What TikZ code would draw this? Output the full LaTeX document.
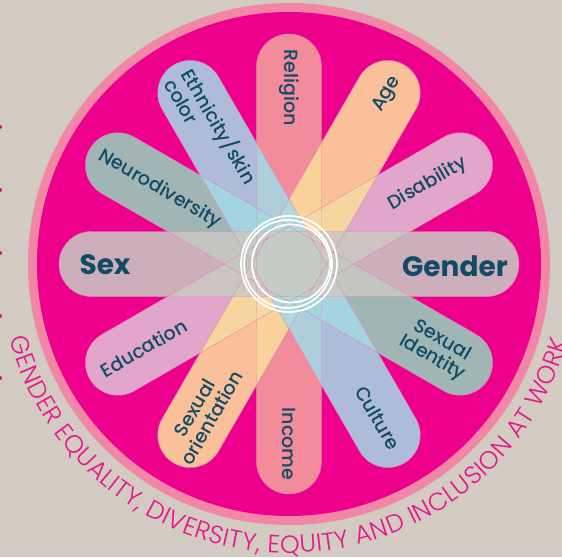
\documentclass[tikz,border=0pt]{standalone}
\usepackage{fontspec}
\usepackage{tikz}
\usetikzlibrary{decorations.text}
\newfontfamily\labelfont{Poppins Medium}
\newfontfamily\biglabelfont{Poppins Bold}
\newfontfamily\arcfont{Poppins Light}
\definecolor{bgbeige}{RGB}{211,202,193}
\definecolor{ringpink}{RGB}{242,134,166}
\definecolor{magentabase}{RGB}{236,0,140}
\definecolor{arcmag}{RGB}{232,20,140}
\definecolor{relpink}{RGB}{243,160,157}
\definecolor{agepeach}{RGB}{251,221,156}
\definecolor{dispink}{RGB}{224,191,212}
\definecolor{sexgray}{RGB}{201,201,194}
\definecolor{neuroteal}{RGB}{152,209,188}
\definecolor{ethblue}{RGB}{165,217,229}
\definecolor{edgepink}{RGB}{222,134,184}
\definecolor{labelteal}{RGB}{17,75,102}

\begin{document}
\begin{tikzpicture}[x=1pt,y=1pt,
  spoke/.style={fill opacity=0.87,rounded corners=32.5pt},
  spokeedge/.style={draw=edgepink,line width=0.4pt,rounded corners=32.5pt},
  lbl/.style={text=labelteal,font=\labelfont\fontsize{19}{20}\selectfont,inner sep=0pt},
  biglbl/.style={text=labelteal,font=\biglabelfont\fontsize{28}{30}\selectfont,inner sep=0pt}]
\fill[bgbeige] (-289,-293) rectangle (273,264);
\useasboundingbox (-289,-293) rectangle (273,264);
%dots on the left edge
\fill[magentabase] (-289,137) circle (2);
\fill[magentabase] (-289,74) circle (2);
\fill[magentabase] (-289,11) circle (2);
\fill[magentabase] (-289,-52) circle (2);
\fill[magentabase] (-289,-114) circle (2);
%disc
\fill[ringpink] (0,0) circle (261);
\fill[magentabase] (0,0) circle (252);
%spokes
\fill[relpink,spoke,rotate=90] (-230,-32.5) rectangle (230,32.5);
\fill[dispink,spoke,rotate=30] (-230,-32.5) rectangle (230,32.5);
\fill[neuroteal,spoke,rotate=150] (-230,-32.5) rectangle (230,32.5);
\fill[agepeach,spoke,rotate=60] (-230,-32.5) rectangle (230,32.5);
\fill[ethblue,spoke,rotate=120] (-230,-32.5) rectangle (230,32.5);
\fill[sexgray,spoke] (-230,-32.5) rectangle (230,32.5);
\foreach \a in {0,30,60,90,120,150}
  \draw[spokeedge,rotate=\a] (-230,-32.5) rectangle (230,32.5);
%rings in the middle
\draw[white,line width=1.8pt] (0,0) circle (48);
\draw[white,line width=1.8pt] (-1,0) circle (44);
\draw[white,line width=1.8pt] (2,0.5) circle (39);
%labels
\node[lbl,rotate=-90] (religion) at (0,176) {Religion};
\node[lbl,rotate=60] (age) at (60:196) {Age};
\node[lbl,rotate=30] (disability) at (30:160) {Disability};
\node[biglbl] (gender) at (166,-2) {Gender};
\node[lbl,rotate=-30,align=center] (sexid) at (-30:171) {Sexual\\Identity};
\node[lbl,rotate=-60] (culture) at (-60:178) {Culture};
\node[lbl,rotate=-90] (income) at (0,-180) {Income};
\node[lbl,rotate=60,align=center] (sexor) at (240:172) {Sexual\\orientation};
\node[lbl,rotate=30] (education) at (210:168) {Education};
\node[biglbl] (sex) at (-184,-1) {Sex};
\node[lbl,rotate=-30] (neuro) at (150:149) {Neurodiversity};
\node[lbl,rotate=-60,align=left] (ethnicity) at (120:154) {Ethnicity/skin\\color};
%text round the disc
\path[decorate,decoration={text along path,text align=fit to path,
  text={|\arcfont\fontsize{25}{25}\selectfont\color{arcmag}|GENDER EQUALITY, DIVERSITY, EQUITY AND INCLUSION AT WORK}}]
  (195:289) arc[start angle=195,end angle=344.5,radius=289];
\end{tikzpicture}
\end{document}
